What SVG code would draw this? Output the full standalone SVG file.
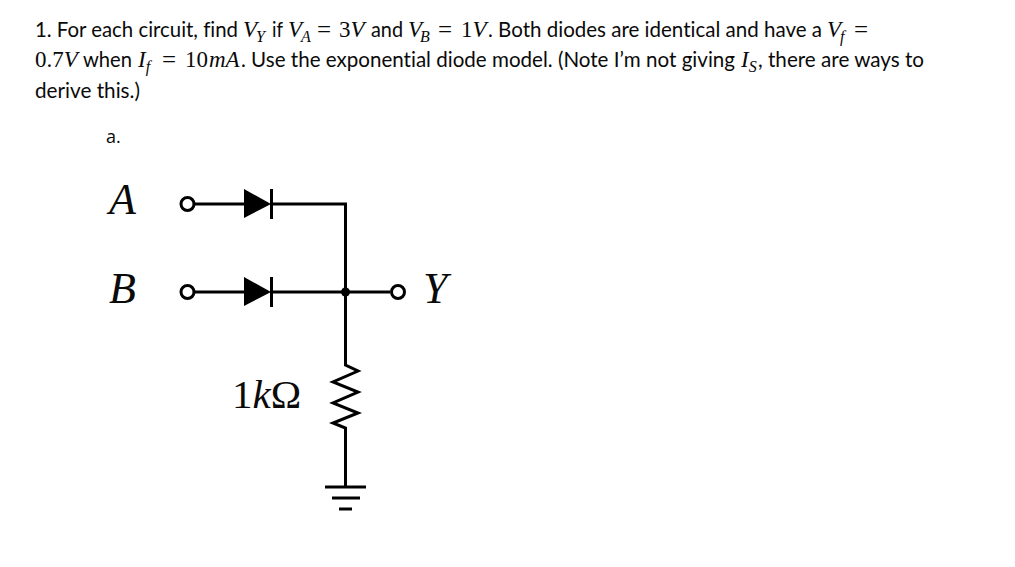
<svg xmlns="http://www.w3.org/2000/svg" width="1015" height="567" viewBox="0 0 1015 567">
<style>
text{fill:#0a0a0a;font-variant-ligatures:none}
.t{font-family:"Lato","Open Sans",sans-serif;font-size:20.5px}
.m{font-family:"Liberation Serif",serif;font-style:italic;font-size:23px}
.u{font-style:normal}
.e{font-family:"Liberation Serif",serif;font-size:25px}
.s{font-size:16px}
.c{font-family:"Liberation Serif",serif;font-style:italic;font-size:44px}
.w{fill:none;stroke:#000;stroke-width:3}
</style>
<rect width="1015" height="567" fill="#fff"/>
<g id="question">
<text class="t" x="35" y="37" textLength="203" lengthAdjust="spacingAndGlyphs">1. For each circuit, find</text>
<text class="m" x="243" y="37">V<tspan class="s" dy="5" dx="-1">Y</tspan></text>
<text class="t" x="272" y="37" textLength="11" lengthAdjust="spacingAndGlyphs">if</text>
<text class="m" x="288" y="37">V<tspan class="s" dy="5" dx="-1">A</tspan></text>
<text class="e" x="317" y="38">=</text>
<text class="m" x="339" y="37"><tspan class="u">3</tspan>V</text>
<text class="t" x="371" y="37" textLength="32" lengthAdjust="spacingAndGlyphs">and</text>
<text class="m" x="408" y="37">V<tspan class="s" dy="5" dx="-2">B</tspan></text>
<text class="e" x="438" y="38">=</text>
<text class="m" x="461" y="37"><tspan class="u">1</tspan>V</text>
<text class="t" x="488" y="37" textLength="334" lengthAdjust="spacingAndGlyphs">. Both diodes are identical and have a</text>
<text class="m" x="827" y="37">V<tspan class="s" dy="5" dx="-1">f</tspan></text>
<text class="e" x="854" y="38">=</text>
<text class="m" x="35" y="67"><tspan class="u">0.7</tspan>V</text>
<text class="t" x="83" y="67" textLength="49" lengthAdjust="spacingAndGlyphs">when</text>
<text class="m" x="138" y="67">I<tspan class="s" dy="5">f</tspan></text>
<text class="e" x="162" y="68">=</text>
<text class="m" x="185" y="67"><tspan class="u">10</tspan><tspan dx="1">mA</tspan></text>
<text class="t" x="241" y="67" textLength="494" lengthAdjust="spacingAndGlyphs">. Use the exponential diode model. (Note I’m not giving</text>
<text class="m" x="741" y="67">I<tspan class="s" dy="5">S</tspan></text>
<text class="t" x="758" y="67" textLength="166" lengthAdjust="spacingAndGlyphs">, there are ways to</text>
<text class="t" x="35" y="98" textLength="105" lengthAdjust="spacingAndGlyphs">derive this.)</text>
<text x="106" y="143" style="font-family:'Open Sans',sans-serif;font-size:18px">a.</text>
</g>
<g id="connectors">
<path class="w" d="M195 204H244M271 204H345.5V365"/>
<path class="w" d="M195 292H244M271 292H390"/>
<path class="w" d="M345.5 292V365L358 371L333 382L358 392L333 403L358 413L333 423L345.5 428V487"/>
</g>
<g id="node-a"><text class="c" x="109" y="214">A</text><circle class="w" cx="187.5" cy="204" r="6.5"/></g>
<g id="node-b"><text class="c" x="109" y="303">B</text><circle class="w" cx="187.5" cy="292" r="6.5"/></g>
<g id="node-y"><circle class="w" cx="398" cy="292" r="6.5"/><text class="c" x="423" y="303">Y</text></g>
<g id="diode-a"><path d="M244 189L271 204L244 218Z"/><path class="w" d="M271.5 189V219"/></g>
<g id="diode-b"><path d="M244 277L271 292L244 306Z"/><path class="w" d="M271.5 277V307"/></g>
<g id="junction"><circle cx="345.5" cy="292" r="4.5"/></g>
<g id="resistor"><text class="c" x="232" y="408" style="font-size:41px"><tspan class="u">1</tspan><tspan>k</tspan><tspan class="u">Ω</tspan></text></g>
<g id="ground"><path class="w" d="M325 487H366M332 498H360"/><path class="w" d="M339 509H352"/></g>
</svg>
